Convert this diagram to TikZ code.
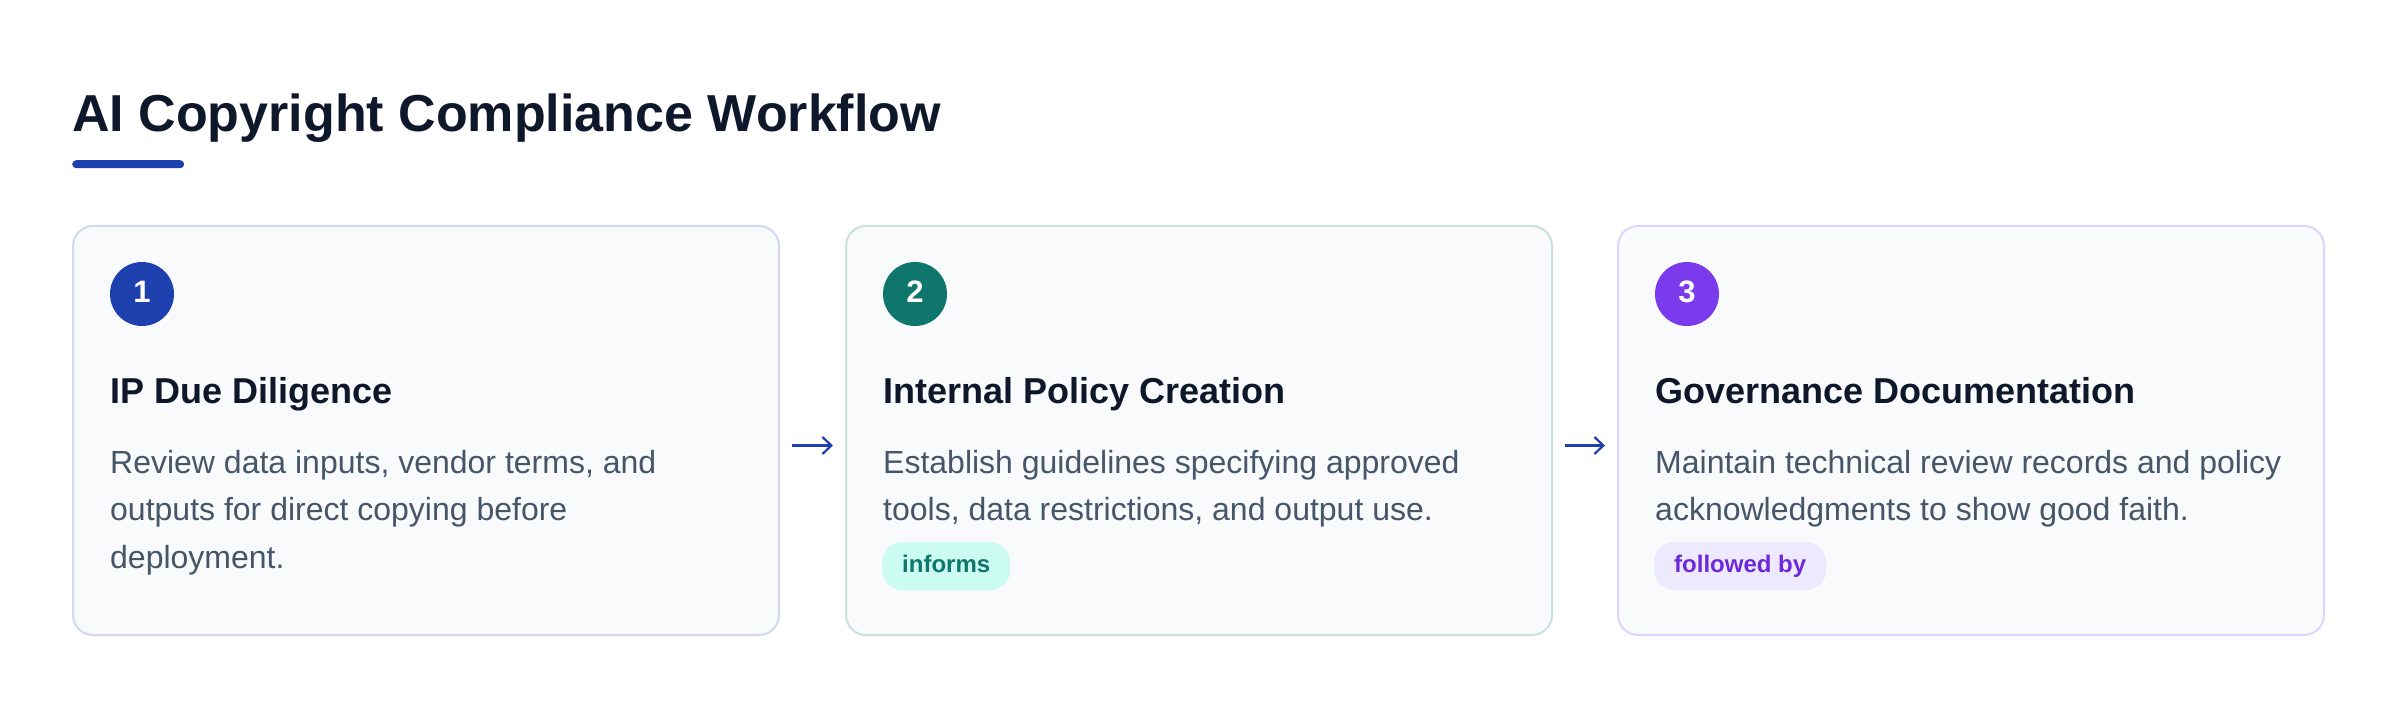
\documentclass[tikz,border=0pt]{standalone}
\usepackage{fontspec}
\setmainfont{Liberation Sans}
\usetikzlibrary{arrows.meta}
\definecolor{ink}{HTML}{0F172A}
\definecolor{bodytx}{HTML}{475569}
\definecolor{cardbg}{HTML}{F8FAFC}
\definecolor{blueA}{HTML}{1E40AF}
\definecolor{tealA}{HTML}{0F766E}
\definecolor{violetA}{HTML}{7C3AED}
\definecolor{bdA}{HTML}{D0D8F2}
\definecolor{bdB}{HTML}{C9E2DE}
\definecolor{bdC}{HTML}{DDD5FB}
\definecolor{tealbg}{HTML}{CCFBF1}
\definecolor{violetbg}{HTML}{EDE9FE}
\definecolor{violettx}{HTML}{6D28D9}
\tikzset{
  card/.style={draw=#1, line width=2pt, fill=cardbg, rounded corners=20pt,
    minimum width=706pt, minimum height=409pt, inner sep=0pt, anchor=north west},
  numdot/.style={circle, fill=#1, minimum size=64pt, inner sep=0pt, text=white,
    font=\fontsize{31}{31}\selectfont\bfseries, text height=22pt, text depth=4pt},
  heading/.style={anchor=base west, inner sep=0pt, text=ink,
    font=\fontsize{36}{42}\selectfont\bfseries},
  bodyline/.style={anchor=base west, inner sep=0pt, text=bodytx,
    font=\fontsize{32}{47.5}\selectfont},
  pill/.style={fill=#1, rounded corners=20pt, minimum height=48pt, inner xsep=20pt,
    inner ysep=0pt, anchor=west, font=\fontsize{24}{24}\selectfont\bfseries,
    text height=17.5pt, text depth=5pt},
  flow/.style={draw=blueA, line width=2.2pt,
    -{Straight Barb[length=9pt,width=17pt,line width=2.2pt]}}
}
\begin{document}
\begin{tikzpicture}[x=1pt,y=-1pt]
\useasboundingbox (0,0) rectangle (2400,708);
\fill[white] (0,0) rectangle (2400,708);

% title
\node[anchor=base west, inner sep=0pt, text=ink, font=\fontsize{52}{62}\selectfont\bfseries]
  (title) at (72,132) {AI Copyright Compliance Workflow};
\node[fill=blueA, rounded corners=4pt, minimum width=112pt, minimum height=8pt,
  inner sep=0pt, anchor=north west] (rule) at (72,160) {};

% cards
\node[card=bdA] (c1) at (72,225) {};
\node[card=bdB] (c2) at (845,225) {};
\node[card=bdC] (c3) at (1617,225) {};

% card 1
\node[numdot=blueA] (n1) at ([shift={(70,69)}]c1.north west) {1};
\node[heading] (h1) at ([shift={(38,178)}]c1.north west) {IP Due Diligence};
\node[bodyline] (b1a) at ([shift={(38,248)}]c1.north west) {Review data inputs, vendor terms, and};
\node[bodyline] (b1b) at ([shift={(38,295.5)}]c1.north west) {outputs for direct copying before};
\node[bodyline] (b1c) at ([shift={(38,343)}]c1.north west) {deployment.};

% card 2
\node[numdot=tealA] (n2) at ([shift={(70,69)}]c2.north west) {2};
\node[heading] (h2) at ([shift={(38,178)}]c2.north west) {Internal Policy Creation};
\node[bodyline] (b2a) at ([shift={(38,248)}]c2.north west) {Establish guidelines specifying approved};
\node[bodyline] (b2b) at ([shift={(38,295.5)}]c2.north west) {tools, data restrictions, and output use.};
\node[pill=tealbg, text=tealA] (p2) at ([shift={(37,341)}]c2.north west) {informs};

% card 3
\node[numdot=violetA] (n3) at ([shift={(70,69)}]c3.north west) {3};
\node[heading] (h3) at ([shift={(38,178)}]c3.north west) {Governance Documentation};
\node[bodyline] (b3a) at ([shift={(38,248)}]c3.north west) {Maintain technical review records and policy};
\node[bodyline] (b3b) at ([shift={(38,295.5)}]c3.north west) {acknowledgments to show good faith.};
\node[pill=violetbg, text=violettx] (p3) at ([shift={(37,341)}]c3.north west) {followed by};

% connectors
\draw[flow] ([shift={(12,15)}]c1.east) -- ([shift={(-12,15)}]c2.west);
\draw[flow] ([shift={(12,15)}]c2.east) -- ([shift={(-12,15)}]c3.west);
\end{tikzpicture}
\end{document}
